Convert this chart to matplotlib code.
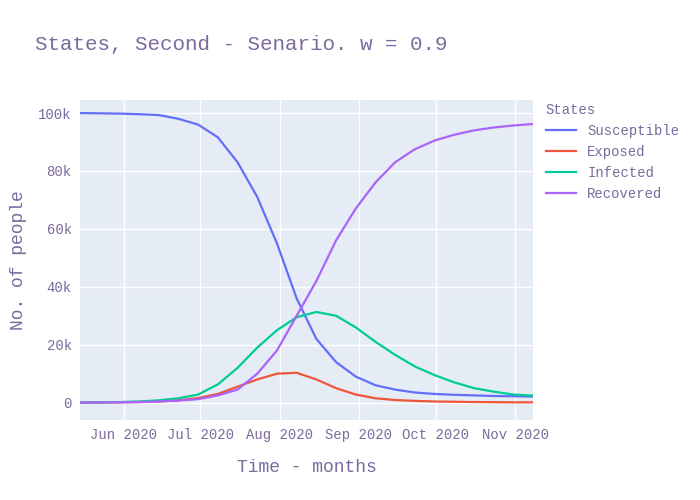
import matplotlib.pyplot as plt
import matplotlib.dates as mdates
import pandas as pd
from matplotlib.ticker import FuncFormatter

# Samples (values in thousands of people)
dates = pd.date_range("2020-05-15", "2020-11-08", periods=24)
susceptible = [100, 99.9, 99.8, 99.6, 99.3, 98, 96, 91.6, 83, 71, 55, 36, 22, 14, 9, 6,
               4.5, 3.5, 3, 2.7, 2.5, 2.3, 2.2, 2.1]
exposed = [0, 0.05, 0.1, 0.2, 0.4, 0.8, 1.6, 3, 5.5, 8, 10, 10.3, 8, 5, 2.8, 1.5,
           0.9, 0.6, 0.4, 0.3, 0.2, 0.15, 0.1, 0.1]
infected = [0, 0.1, 0.2, 0.4, 0.8, 1.5, 2.8, 6.3, 12, 19, 25, 29.5, 31.3, 30, 26, 21,
            16.5, 12.5, 9.5, 7, 5, 3.8, 2.8, 2.4]
recovered = [0, 0.05, 0.1, 0.2, 0.4, 0.7, 1.2, 2.5, 4.5, 10, 18, 30, 42, 56, 67, 76,
             83, 87.5, 90.5, 92.5, 94, 95, 95.7, 96.2]
series = [("Susceptible", susceptible, "#636EFA"), ("Exposed", exposed, "#EF553B"),
          ("Infected", infected, "#00CC96"), ("Recovered", recovered, "#AB63FA")]

FONT = "Liberation Mono"
TXT = "#7a6a9e"

fig = plt.figure(figsize=(7, 5), dpi=100)
ax = fig.add_axes([80 / 700, 0.16, 453 / 700, 0.64])
ax.set_facecolor("#E5ECF6")
for name, vals, col in series:
    ax.plot(dates, [v * 1000 for v in vals], color=col, lw=1.6, label=name)

ax.set_xlim(dates[0], dates[-1])
ax.set_ylim(-6000, 104500)
ax.yaxis.set_major_formatter(FuncFormatter(lambda v, p: "0" if v == 0 else f"{int(v/1000)}k"))
ax.set_yticks(range(0, 100001, 20000))
ax.xaxis.set_major_locator(mdates.MonthLocator())
ax.xaxis.set_major_formatter(mdates.DateFormatter("%b %Y"))
ax.grid(color="white", lw=1)
ax.set_axisbelow(True)
for s in ax.spines.values():
    s.set_visible(False)
ax.tick_params(length=0, labelsize=10, colors=TXT, pad=6)
for lbl in ax.get_xticklabels() + ax.get_yticklabels():
    lbl.set_family(FONT)
ax.set_xlabel("Time - months", family=FONT, fontsize=13, color=TXT, labelpad=12)
ax.set_ylabel("No. of people", family=FONT, fontsize=13, color=TXT, labelpad=8)
fig.text(35 / 700, 1 - 44 / 500, "States, Second - Senario. w = 0.9", family=FONT,
         fontsize=15, color=TXT, va="center")
leg = ax.legend(loc="upper left", bbox_to_anchor=(1.0, 1.03), frameon=False,
                title="States", prop={"family": FONT, "size": 10}, handlelength=2.2,
                alignment="left", labelcolor=TXT)
leg.get_title().set_family(FONT)
leg.get_title().set_color(TXT)
fig.savefig("out.png")
